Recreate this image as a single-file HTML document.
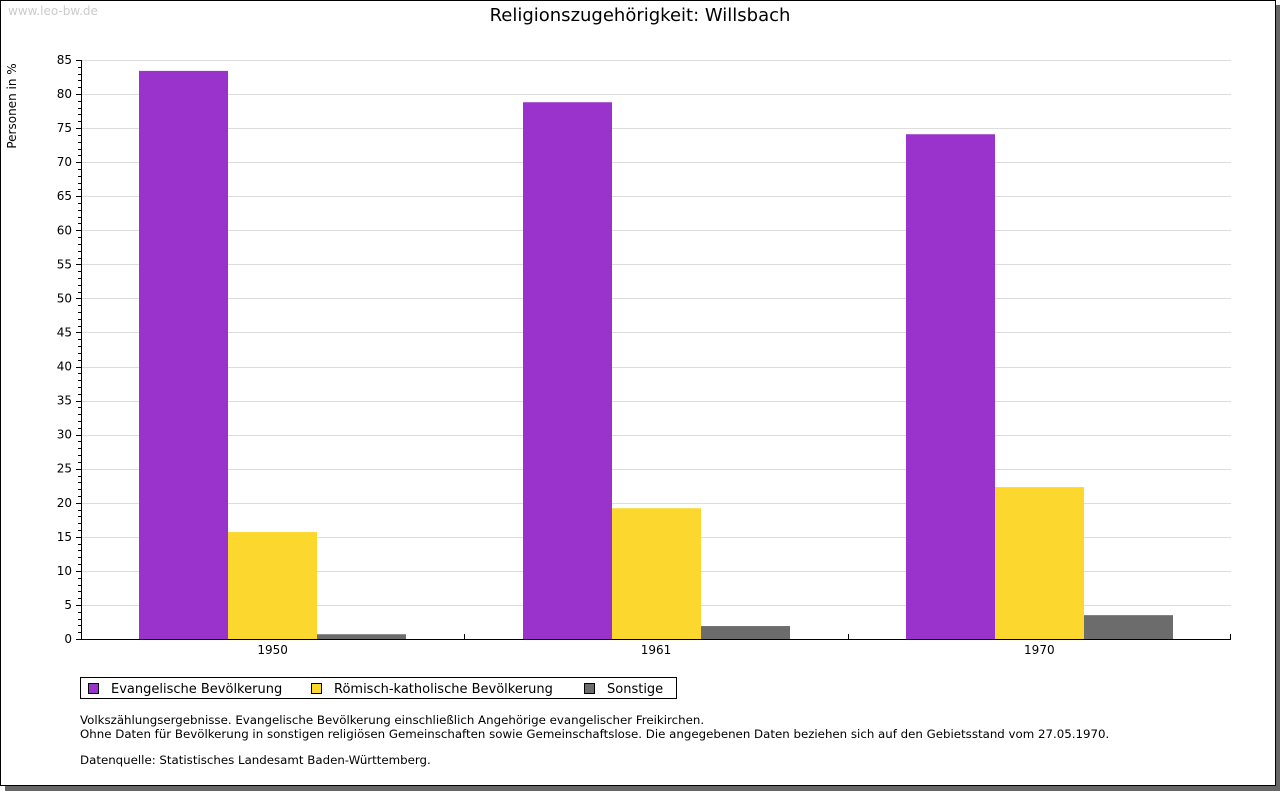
<!DOCTYPE html>
<html><head><meta charset="utf-8"><style>
body{margin:0;background:#fff;}
svg{display:block;font-family:"DejaVu Sans","Liberation Sans",sans-serif;}
</style></head><body>
<svg id="chart" width="1280" height="791" xmlns="http://www.w3.org/2000/svg">
<rect x="5" y="5" width="1275" height="786" fill="#666"/>
<rect x="0.5" y="0.5" width="1275" height="785" fill="#fff" stroke="#000"/>
<text x="8" y="15" font-size="12" fill="#ccc">www.leo-bw.de</text>
<text x="640" y="21" font-size="18" text-anchor="middle" fill="#000">Religionszugehörigkeit: Willsbach</text>
<text transform="translate(16,106) rotate(-90)" font-size="12" text-anchor="middle">Personen in %</text>
<g id="grid"></g><g id="bars"></g><g id="axes"></g>
<g>
<rect x="80.5" y="677.5" width="596" height="21" fill="#fff" stroke="#000"/>
<rect x="88.5" y="683.5" width="10" height="10" fill="#9933cc" stroke="#000"/>
<text x="111" y="693" font-size="13">Evangelische Bevölkerung</text>
<rect x="311.5" y="683.5" width="10" height="10" fill="#fcd72e" stroke="#000"/>
<text x="334" y="693" font-size="13">Römisch-katholische Bevölkerung</text>
<rect x="584.5" y="683.5" width="10" height="10" fill="#6c6c6c" stroke="#000"/>
<text x="607" y="693" font-size="13">Sonstige</text>
</g>
<g font-size="11.8">
<text x="80" y="724">Volkszählungsergebnisse. Evangelische Bevölkerung einschließlich Angehörige evangelischer Freikirchen.</text>
<text x="80" y="738">Ohne Daten für Bevölkerung in sonstigen religiösen Gemeinschaften sowie Gemeinschaftslose. Die angegebenen Daten beziehen sich auf den Gebietsstand vom 27.05.1970.</text>
<text x="80" y="764">Datenquelle: Statistisches Landesamt Baden-Württemberg.</text>
</g>
</svg>
<script>
const categories=["1950","1961","1970"];
const evangelisch=[83.4,78.8,74.1];
const katholisch=[15.7,19.2,22.3];
const sonstige=[0.7,1.9,3.5];
const yTicks=[0,5,10,15,20,25,30,35,40,45,50,55,60,65,70,75,80,85];
const NS="http://www.w3.org/2000/svg";
const X0=81,X1=1231,Y0=639,Y1=60,YMAX=85;
const y=v=>Y0-(v/YMAX)*(Y0-Y1);
const gw=(X1-X0)/categories.length;
const bw=89;
function mk(t,a,p){const e=document.createElementNS(NS,t);for(const k in a)e.setAttribute(k,a[k]);p.appendChild(e);return e;}
const grid=document.getElementById('grid'),bars=document.getElementById('bars'),axes=document.getElementById('axes');
yTicks.forEach(v=>{
 if(v>0){const l=mk('line',{x1:X0,x2:X1,y1:Math.round(y(v))+.5,y2:Math.round(y(v))+.5,stroke:'#ddd'},grid);
 
 }
 const tk=mk('line',{x1:X0-5,x2:X0,y1:Math.round(y(v))+.5,y2:Math.round(y(v))+.5,stroke:'#000'},axes);
 
 
 const t=mk('text',{x:X0-9,y:y(v)+4,'font-size':12,'text-anchor':'end'},axes);t.textContent=v;
 
 
});
for(let v=1;v<YMAX;v++){if(v%5)mk('line',{x1:X0-3,x2:X0,y1:Math.round(y(v))+.5,y2:Math.round(y(v))+.5,stroke:'#000'},axes);}
const series=[[evangelisch,'#9933cc','evangelisch'],[katholisch,'#fcd72e','katholisch'],[sonstige,'#6c6c6c','sonstige']];
categories.forEach((c,i)=>{
 const gx=X0+gw*i,start=Math.round(gx+(gw-bw*3)/2);
 series.forEach((s,j)=>{
  const top=y(s[0][i]);
  const r=mk('rect',{x:start+bw*j,y:top,width:bw,height:Y0-top,fill:s[1]},bars);
  
  
 });
 const t=mk('text',{x:gx+gw/2,y:Y0+15,'font-size':12,'text-anchor':'middle'},axes);t.textContent=c;
 
 
 if(i>0)mk('line',{x1:Math.round(gx)+.5,x2:Math.round(gx)+.5,y1:Y0-5,y2:Y0,stroke:'#000'},axes);
});
mk('line',{x1:X1-.5,x2:X1-.5,y1:Y0-5,y2:Y0,stroke:'#000'},axes);
const ya=mk('line',{x1:X0+.5,x2:X0+.5,y1:Y1,y2:Y0+1,stroke:'#000'},axes);


const xa=mk('line',{x1:X0,x2:X1,y1:Y0+.5,y2:Y0+.5,stroke:'#000'},axes);


</script>
</body></html>
